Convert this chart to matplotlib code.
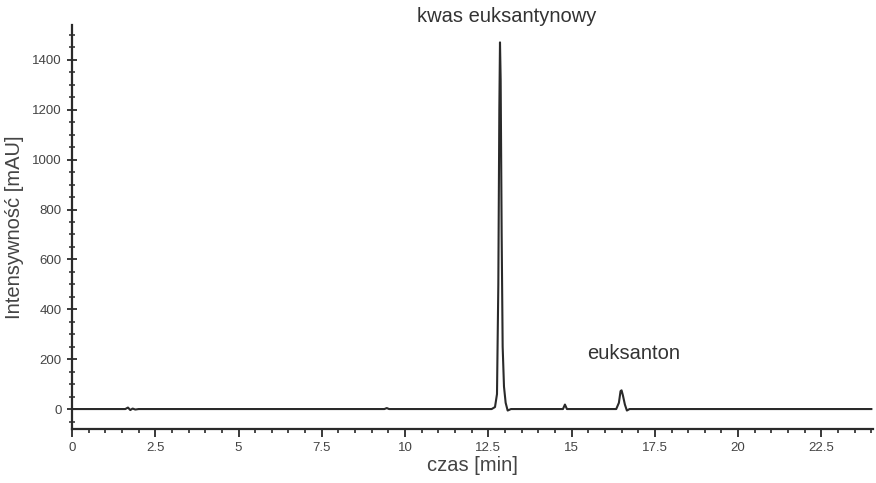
import matplotlib
matplotlib.use("Agg")
import matplotlib.pyplot as plt
from matplotlib.ticker import MultipleLocator

plt.rcParams['font.family'] = ['Liberation Sans', 'DejaVu Sans']

# chromatogram trace (retention time [min], signal [mAU])
czas = [0.0, 1.6, 1.68, 1.75, 1.82, 1.9, 2.0, 9.38, 9.45, 9.52,
        12.6, 12.7, 12.76, 12.8, 12.83, 12.85, 12.87, 12.9, 12.93, 12.97,
        13.02, 13.08, 13.18, 14.74, 14.8, 14.86,
        16.34, 16.42, 16.47, 16.5, 16.54, 16.6, 16.66, 16.74, 24.0]
sygnal = [0, 0, 6, -4, 2, -2, 0, 0, 4, 0,
          0, 8, 60, 500, 1200, 1470, 1320, 700, 250, 90,
          25, -6, 0, 0, 18, 0,
          0, 25, 72, 75, 55, 18, -6, 0, 0]

peak_names = ["kwas euksantynowy", "euksanton"]
peak_label_x = [13.05, 16.85]
peak_label_y = [1575, 222]

xticks = [0, 2.5, 5, 7.5, 10, 12.5, 15, 17.5, 20, 22.5]
yticks = [0, 200, 400, 600, 800, 1000, 1200, 1400]

ink = '#2a2a2a'
fig = plt.figure(figsize=(8.76, 4.83), dpi=100)
ax = fig.add_axes([0.0822, 0.1118, 0.9144, 0.8366])

ax.plot(czas, sygnal, color=ink, lw=1.5)

for name, lx, ly in zip(peak_names, peak_label_x, peak_label_y):
    ax.text(lx, ly, name, ha='center', va='center', fontsize=14.5,
            color='#333333', clip_on=False)

ax.set_xlim(0, 24.05)
ax.set_ylim(-80, 1540)
ax.set_xticks(xticks)
ax.set_xticklabels([f"{t:g}" for t in xticks])
ax.set_yticks(yticks)
ax.xaxis.set_minor_locator(MultipleLocator(0.5))
ax.yaxis.set_minor_locator(MultipleLocator(50))

ax.spines['top'].set_visible(False)
ax.spines['right'].set_visible(False)
for s in ['left', 'bottom']:
    ax.spines[s].set_linewidth(1.6)
    ax.spines[s].set_color(ink)

ax.tick_params(axis='x', which='major', direction='out', length=6, width=1.3,
               colors=ink, labelsize=9.5, labelcolor='#444444', pad=3)
ax.tick_params(axis='x', which='minor', direction='out', length=3, width=1.2, colors=ink)
ax.tick_params(axis='y', which='major', direction='inout', length=7, width=1.3,
               colors=ink, labelsize=9.5, labelcolor='#444444', pad=4)
ax.tick_params(axis='y', which='minor', direction='inout', length=4, width=1.1, colors=ink)

ax.set_xlabel("czas [min]", fontsize=14.5, color='#444444', labelpad=2)
ax.set_ylabel("Intensywność [mAU]", fontsize=14.5, color='#444444', labelpad=6)

fig.savefig("out.png", dpi=100)
